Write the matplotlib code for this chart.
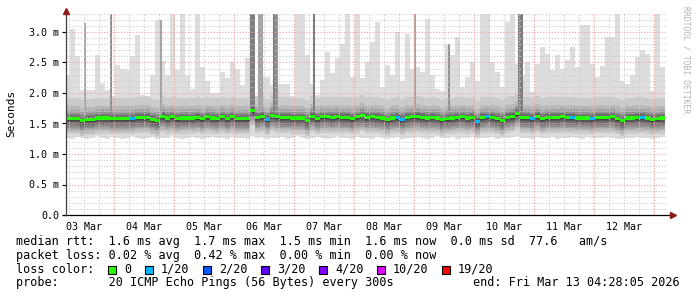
import numpy as np
import matplotlib
matplotlib.use("Agg")
import matplotlib.pyplot as plt
import matplotlib.dates as mdates
from matplotlib.patches import Rectangle
from datetime import datetime, timedelta

MONO = "DejaVu Sans Mono"
plt.rcParams["font.family"] = MONO

# ---- data (ms), one value per 2 hour step starting at START ----
START = datetime(2026, 3, 3, 4, 28, 5)
STEP_H = 2

median_ms = [
    1.58, 1.58, 1.58, 1.55, 1.57, 1.57, 1.59, 1.59, 1.59, 1.58,
    1.58, 1.58, 1.58, 1.58, 1.60, 1.60, 1.60, 1.57, 1.55, 1.62,
    1.59, 1.61, 1.58, 1.59, 1.59, 1.59, 1.60, 1.58, 1.61, 1.59,
    1.58, 1.61, 1.58, 1.61, 1.58, 1.58, 1.58, 1.72, 1.60, 1.62,
    1.57, 1.63, 1.61, 1.60, 1.60, 1.59, 1.59, 1.59, 1.55, 1.62,
    1.58, 1.61, 1.61, 1.60, 1.61, 1.60, 1.60, 1.58, 1.61, 1.63,
    1.60, 1.61, 1.60, 1.59, 1.56, 1.59, 1.60, 1.57, 1.60, 1.61,
    1.62, 1.60, 1.59, 1.60, 1.59, 1.56, 1.58, 1.59, 1.60, 1.61,
    1.59, 1.60, 1.54, 1.60, 1.61, 1.60, 1.58, 1.55, 1.60, 1.62,
    1.67, 1.60, 1.60, 1.58, 1.62, 1.58, 1.60, 1.60, 1.60, 1.61,
    1.60, 1.60, 1.59, 1.59, 1.59, 1.58, 1.60, 1.60, 1.60, 1.61,
    1.58, 1.55, 1.59, 1.59, 1.60, 1.60, 1.59, 1.57, 1.58, 1.59,
]

ping_min_ms = [
    1.27, 1.25, 1.28, 1.26, 1.24, 1.27, 1.29, 1.26, 1.25, 1.28,
    1.27, 1.24, 1.26, 1.29, 1.27, 1.25, 1.26, 1.28, 1.24, 1.27,
    1.26, 1.29, 1.27, 1.25, 1.27, 1.28, 1.26, 1.24, 1.27, 1.28,
    1.26, 1.27, 1.25, 1.28, 1.26, 1.27, 1.24, 1.30, 1.26, 1.28,
    1.25, 1.27, 1.26, 1.28, 1.25, 1.27, 1.29, 1.26, 1.24, 1.27,
    1.28, 1.26, 1.25, 1.27, 1.29, 1.26, 1.27, 1.25, 1.28, 1.26,
    1.27, 1.25, 1.28, 1.26, 1.24, 1.27, 1.28, 1.25, 1.27, 1.26,
    1.28, 1.26, 1.25, 1.27, 1.29, 1.26, 1.27, 1.28, 1.25, 1.27,
    1.26, 1.28, 1.24, 1.27, 1.26, 1.28, 1.25, 1.27, 1.26, 1.28,
    1.29, 1.26, 1.27, 1.25, 1.28, 1.26, 1.27, 1.28, 1.25, 1.27,
    1.26, 1.28, 1.27, 1.25, 1.28, 1.26, 1.27, 1.26, 1.28, 1.27,
    1.25, 1.24, 1.27, 1.26, 1.28, 1.27, 1.26, 1.25, 1.27, 1.28,
]

ping_max_ms = [
    2.30, 3.05, 2.60, 2.05, 2.05, 2.05, 2.62, 2.16, 2.05, 1.95,
    2.46, 2.40, 2.38, 2.60, 2.95, 1.97, 1.95, 2.30, 3.20, 2.52,
    2.30, 3.35, 2.38, 3.35, 2.29, 2.07, 3.35, 2.43, 2.20, 2.00,
    2.00, 2.34, 2.24, 2.50, 2.40, 2.13, 2.57, 2.15, 1.95, 2.27,
    2.27, 2.13, 2.15, 2.15, 2.15, 1.95, 3.35, 3.35, 2.62, 2.15,
    1.96, 2.21, 2.68, 2.32, 2.57, 2.81, 3.35, 2.27, 3.35, 2.24,
    2.50, 2.84, 3.16, 2.10, 2.46, 2.30, 3.00, 2.20, 2.97, 2.40,
    2.42, 2.34, 3.22, 2.30, 2.07, 2.04, 2.78, 2.62, 2.92, 2.10,
    2.26, 2.51, 2.20, 3.35, 3.35, 2.51, 2.34, 2.10, 3.16, 3.35,
    2.48, 2.29, 2.51, 2.02, 2.48, 2.75, 2.64, 2.37, 2.62, 2.40,
    2.54, 2.75, 2.43, 3.11, 3.11, 2.48, 2.26, 2.45, 2.92, 2.92,
    3.35, 2.20, 2.15, 2.29, 2.59, 2.70, 2.64, 2.04, 3.35, 2.43,
]

# offsets of sorted pings 2..19 from the median
ping_offsets_ms = [-0.26, -0.22, -0.18, -0.15, -0.12, -0.09, -0.06, -0.04, -0.02,
                   0.00, 0.01, 0.03, 0.05, 0.07, 0.10, 0.14, 0.20, 0.33]

# steps where 1 of 20 pings was lost
loss_1_steps = [13, 40, 66, 67, 82, 84, 93, 101, 105, 115]

# hours after START where several pings were slow (dark smoke columns)
spike_hours = [7.4, 17.8, 37.8, 73.8, 74.8, 77.0, 78.0, 83.0, 84.0, 99.0, 139.4, 153.0, 181.0, 182.0]
spike_top_ms = [3.15, 3.35, 3.20, 3.35, 3.35, 3.35, 3.35, 3.35, 3.35, 3.35, 3.35, 2.80, 3.35, 3.35]
spike_depth = [4, 5, 4, 6, 6, 4, 4, 6, 5, 6, 4, 5, 6, 6]

loss_labels = ["0", "1/20", "2/20", "3/20", "4/20", "10/20", "19/20"]
loss_colors = ["#26ff00", "#00b8ff", "#0059ff", "#5e00ff", "#7e00ff", "#dd00ff", "#ff0000"]

stats_rtt = "median rtt:  1.6 ms avg  1.7 ms max  1.5 ms min  1.6 ms now  0.0 ms sd  77.6   am/s"
stats_loss = "packet loss: 0.02 % avg  0.42 % max  0.00 % min  0.00 % now"
probe_text = "probe:       20 ICMP Echo Pings (56 Bytes) every 300s"
end_text = "end: Fri Mar 13 04:28:05 2026"


def layer_gray(i):
    v = int(190 / 10 * (10 - i)) + 50
    return "#%02x%02x%02x" % (v, v, v)


W, H = 697, 297
fig = plt.figure(figsize=(W / 100, H / 100), dpi=100)
fig.patch.set_facecolor("white")
ax = fig.add_axes([65.5 / W, 82 / H, 600 / W, 201.3 / H])

n = len(median_ms)
edges = [START + timedelta(hours=STEP_H * i) for i in range(n + 1)]
med = np.array(median_ms)

pings = np.zeros((20, n))
pings[0] = ping_min_ms
pings[19] = ping_max_ms
for j, off in enumerate(ping_offsets_ms, start=1):
    pings[j] = med + off

# smoke: nested bands, outer ones lightest
for i in range(10):
    lo = np.append(pings[i], pings[i][-1])
    hi = np.append(pings[19 - i], pings[19 - i][-1])
    ax.fill_between(edges, lo, hi, step="post", color=layer_gray(i + 1), lw=0, zorder=1)

for h, top, d in zip(spike_hours, spike_top_ms, spike_depth):
    x0 = START + timedelta(hours=h)
    k = min(int(h // STEP_H), n - 1)
    base = med[k] + 0.08
    ax.bar(mdates.date2num(x0), top - base, bottom=base, width=1 / 24, align="edge",
           color=layer_gray(d), lw=0, zorder=1.5)

# median band coloured by loss
med_cols = [loss_colors[1] if k in loss_1_steps else loss_colors[0] for k in range(n)]
ax.bar(mdates.date2num(edges[:-1]), 0.05, bottom=med - 0.025, width=STEP_H / 24,
       align="edge", color=med_cols, lw=0, zorder=3)

# axes, grid
ax.set_xlim(edges[0], edges[-1])
ax.set_ylim(0, 3.3)
ax.set_axisbelow(False)

ax.yaxis.set_major_locator(plt.MultipleLocator(0.5))
ax.yaxis.set_minor_locator(plt.MultipleLocator(0.1))
ax.yaxis.set_major_formatter(plt.FuncFormatter(lambda v, p: "0.0" if v == 0 else "%.1f m" % v))
ax.xaxis.set_major_locator(mdates.HourLocator(byhour=12))
ax.xaxis.set_major_formatter(mdates.DateFormatter("%d %b"))
ax.xaxis.set_minor_locator(mdates.HourLocator(byhour=[0, 6, 12, 18]))
ax.xaxis.remove_overlapping_locs = False

dots = (0, (1, 1.6))
ax.grid(True, which="minor", color="#cccccc", ls=dots, lw=0.8)
ax.yaxis.grid(True, which="major", color="#f4a0a0", ls=dots, lw=0.8)
for d in mdates.DayLocator().tick_values(edges[0], edges[-1]):
    ax.axvline(d, color="#f4a0a0", ls=dots, lw=0.8, zorder=2.6)

ax.tick_params(axis="y", which="major", length=3, width=0.8, pad=1.5, labelsize=7.2, colors="#000000")
ax.tick_params(axis="y", which="minor", length=0)
ax.tick_params(axis="x", which="both", length=0, pad=5, labelsize=7.2)

for s in ax.spines.values():
    s.set_visible(False)
ax.plot([-0.005, 1.012], [0, 0], transform=ax.transAxes, color="black", lw=0.9, clip_on=False, zorder=4)
ax.plot([0, 0], [0, 1.015], transform=ax.transAxes, color="#404040", lw=0.9, clip_on=False, zorder=4)
ax.plot([1.012], [0], transform=ax.transAxes, marker=">", color="#8b1a1a", ms=4, clip_on=False, zorder=5)
ax.plot([0], [1.015], transform=ax.transAxes, marker="^", color="#8b1a1a", ms=4, clip_on=False, zorder=5)

fig.text(11 / W, 1 - 113 / H, "Seconds", rotation=90, ha="center", va="center", fontsize=8)
fig.text(686 / W, 1 - 60 / H, "RRDTOOL / TOBI OETIKER", rotation=270, ha="center", va="center",
         fontsize=5.8, color="#b4b4b4")

# legend lines
fs = 8.5
fig.text(16 / W, 1 - 241.7 / H, stats_rtt, ha="left", va="center", fontsize=fs)
fig.text(16 / W, 1 - 255.0 / H, stats_loss, ha="left", va="center", fontsize=fs)
fig.text(16 / W, 1 - 269.3 / H, "loss color:", ha="left", va="center", fontsize=fs)
fig.text(16 / W, 1 - 282.7 / H, probe_text, ha="left", va="center", fontsize=fs)
fig.text(680 / W, 1 - 282.7 / H, end_text, ha="right", va="center", fontsize=fs)

x = 108
for lab, col in zip(loss_labels, loss_colors):
    fig.patches.append(Rectangle((x / W, 1 - 273.5 / H), 8 / W, 8 / H, transform=fig.transFigure,
                                 facecolor=col, edgecolor="black", lw=0.8))
    fig.text((x + 16) / W, 1 - 269.3 / H, lab, ha="left", va="center", fontsize=fs)
    x += 16 + 7 * len(lab) + 14

fig.savefig("out.png", dpi=100)
